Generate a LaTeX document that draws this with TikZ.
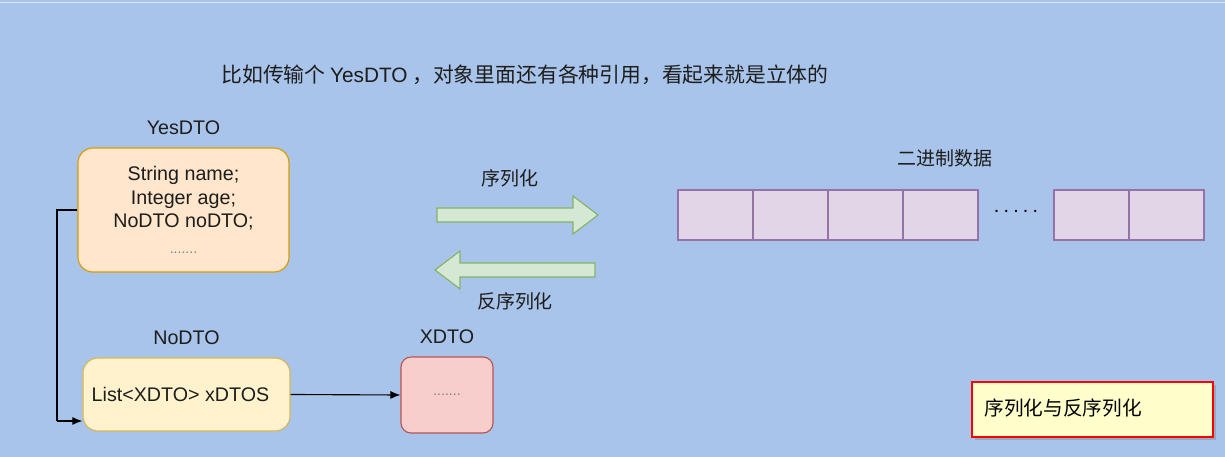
\documentclass[tikz,border=0pt]{standalone}
\usepackage{fontspec}
\setmainfont{Liberation Sans}
\newfontfamily\cjk{Noto Sans CJK SC}
\definecolor{bgBlue}{HTML}{A9C4EB}
\definecolor{yesFill}{HTML}{FFE6CC}
\definecolor{yesDraw}{HTML}{D79B00}
\definecolor{noFill}{HTML}{FFF2CC}
\definecolor{noDraw}{HTML}{D6B656}
\definecolor{xFill}{HTML}{F8CECC}
\definecolor{xDraw}{HTML}{B85450}
\definecolor{cellFill}{HTML}{E1D5E7}
\definecolor{cellDraw}{HTML}{9673A6}
\definecolor{arrowFill}{HTML}{D5E8D4}
\definecolor{arrowDraw}{HTML}{82B366}
\definecolor{noteFill}{HTML}{FFFFCC}
\definecolor{textDark}{HTML}{1D1D1B}
\usetikzlibrary{arrows.meta, positioning, shadows}
\tikzset{
    dto box/.style={rectangle, thick, rounded corners=0.375cm, align=center, font=\fontsize{14}{16.5}\selectfont, text=textDark},
    yes node/.style={dto box, draw=yesDraw, fill=yesFill, minimum width=5.275cm, minimum height=3.1cm},
    no node/.style={dto box, draw=noDraw, fill=noFill, minimum width=5.175cm, minimum height=1.825cm},
    x node/.style={dto box, draw=xDraw, fill=xFill, rounded corners=0.25cm, minimum width=2.3cm, minimum height=1.9cm},
    cell node/.style={rectangle, draw=cellDraw, fill=cellFill, thick, minimum width=1.875cm, minimum height=1.25cm},
    title label/.style={font=\fontsize{14}{16}\selectfont, text=textDark, inner sep=0pt},
    cjk label/.style={font=\cjk\fontsize{13.5}{16}\selectfont, text=textDark, inner sep=0pt},
    block arrow/.style={draw=arrowDraw, fill=arrowFill, thick},
    link style/.style={-{Latex[length=2.5mm, width=2mm]}, thick, black},
    note node/.style={rectangle, draw=red, line width=1.5pt, fill=noteFill, minimum width=6.025cm, minimum height=1.375cm, text width=5.4cm, align=left, font=\cjk\fontsize{14}{16}\selectfont, drop shadow={shadow xshift=2pt, shadow yshift=-2pt, opacity=0.4}},
}
\begin{document}
\begin{tikzpicture}[x=0.025cm, y=-0.025cm]
    % Background
    \fill[bgBlue] (0,0) rectangle (1225,457);
    \useasboundingbox (0,0) rectangle (1225,457);
    \draw[white!60!bgBlue, line width=0.6pt] (0,2) -- (1225,2);

    % Title
    \node[cjk label, font=\cjk\fontsize{14.8}{17}\selectfont] (title) at (525,75) {比如传输个 {\fontspec{Liberation Sans}YesDTO} ，对象里面还有各种引用，看起来就是立体的};

    % Objects
    \node[yes node] (yes) at (183.5,210) {String name;\\Integer age;\\NoDTO noDTO;\\[2pt]{\color{gray}\fontsize{10}{12}\selectfont .......}};
    \node[no node] (no) at (186.5,394.5) {List<XDTO> xDTOS\hspace{0.3cm}};
    \node[x node] (x) at (447,395) {{\color{gray}\fontsize{10}{12}\selectfont .......}};

    \node[title label, above=0.3cm of yes] (yeslabel) {YesDTO};
    \node[title label, above=0.3cm of no] (nolabel) {NoDTO};
    \node[title label, above=0.3cm of x] (xlabel) {XDTO};

    % Links
    \coordinate (bend) at (57,421);
    \draw[thick, black] (yes.west) -| (bend);
    \draw[link style] (bend) -- (no.west |- bend);
    \draw[link style] (no.east) -- (x.west);

    % Block arrows
    \draw[block arrow] (437,208) -- (573,208) -- (573,196) -- (598,215) -- (573,234) -- (573,222) -- (437,222) -- cycle;
    \draw[block arrow] (595,263) -- (460,263) -- (460,251) -- (435,270) -- (460,289) -- (460,277) -- (595,277) -- cycle;
    \node[cjk label] (ser) at (510,178) {序列化};
    \node[cjk label] (deser) at (515,301) {反序列化};

    % Binary data
    \node[cjk label] (binlabel) at (945,158) {二进制数据};
    \foreach \cx [count=\i] in {715.5,790.5,865.5,940.5,1091.5,1166.5}
        \node[cell node] (cell\i) at (\cx,215) {};
    \node[font=\fontsize{14}{16}\selectfont, inner sep=0pt] (dots) at (1016,211) {.\hspace{3pt}.\hspace{3pt}.\hspace{3pt}.\hspace{3pt}.};

    % Note
    \node[note node] (note) at (1092.5,409.5) {\raisebox{4pt}{序列化与反序列化}};
\end{tikzpicture}
\end{document}
